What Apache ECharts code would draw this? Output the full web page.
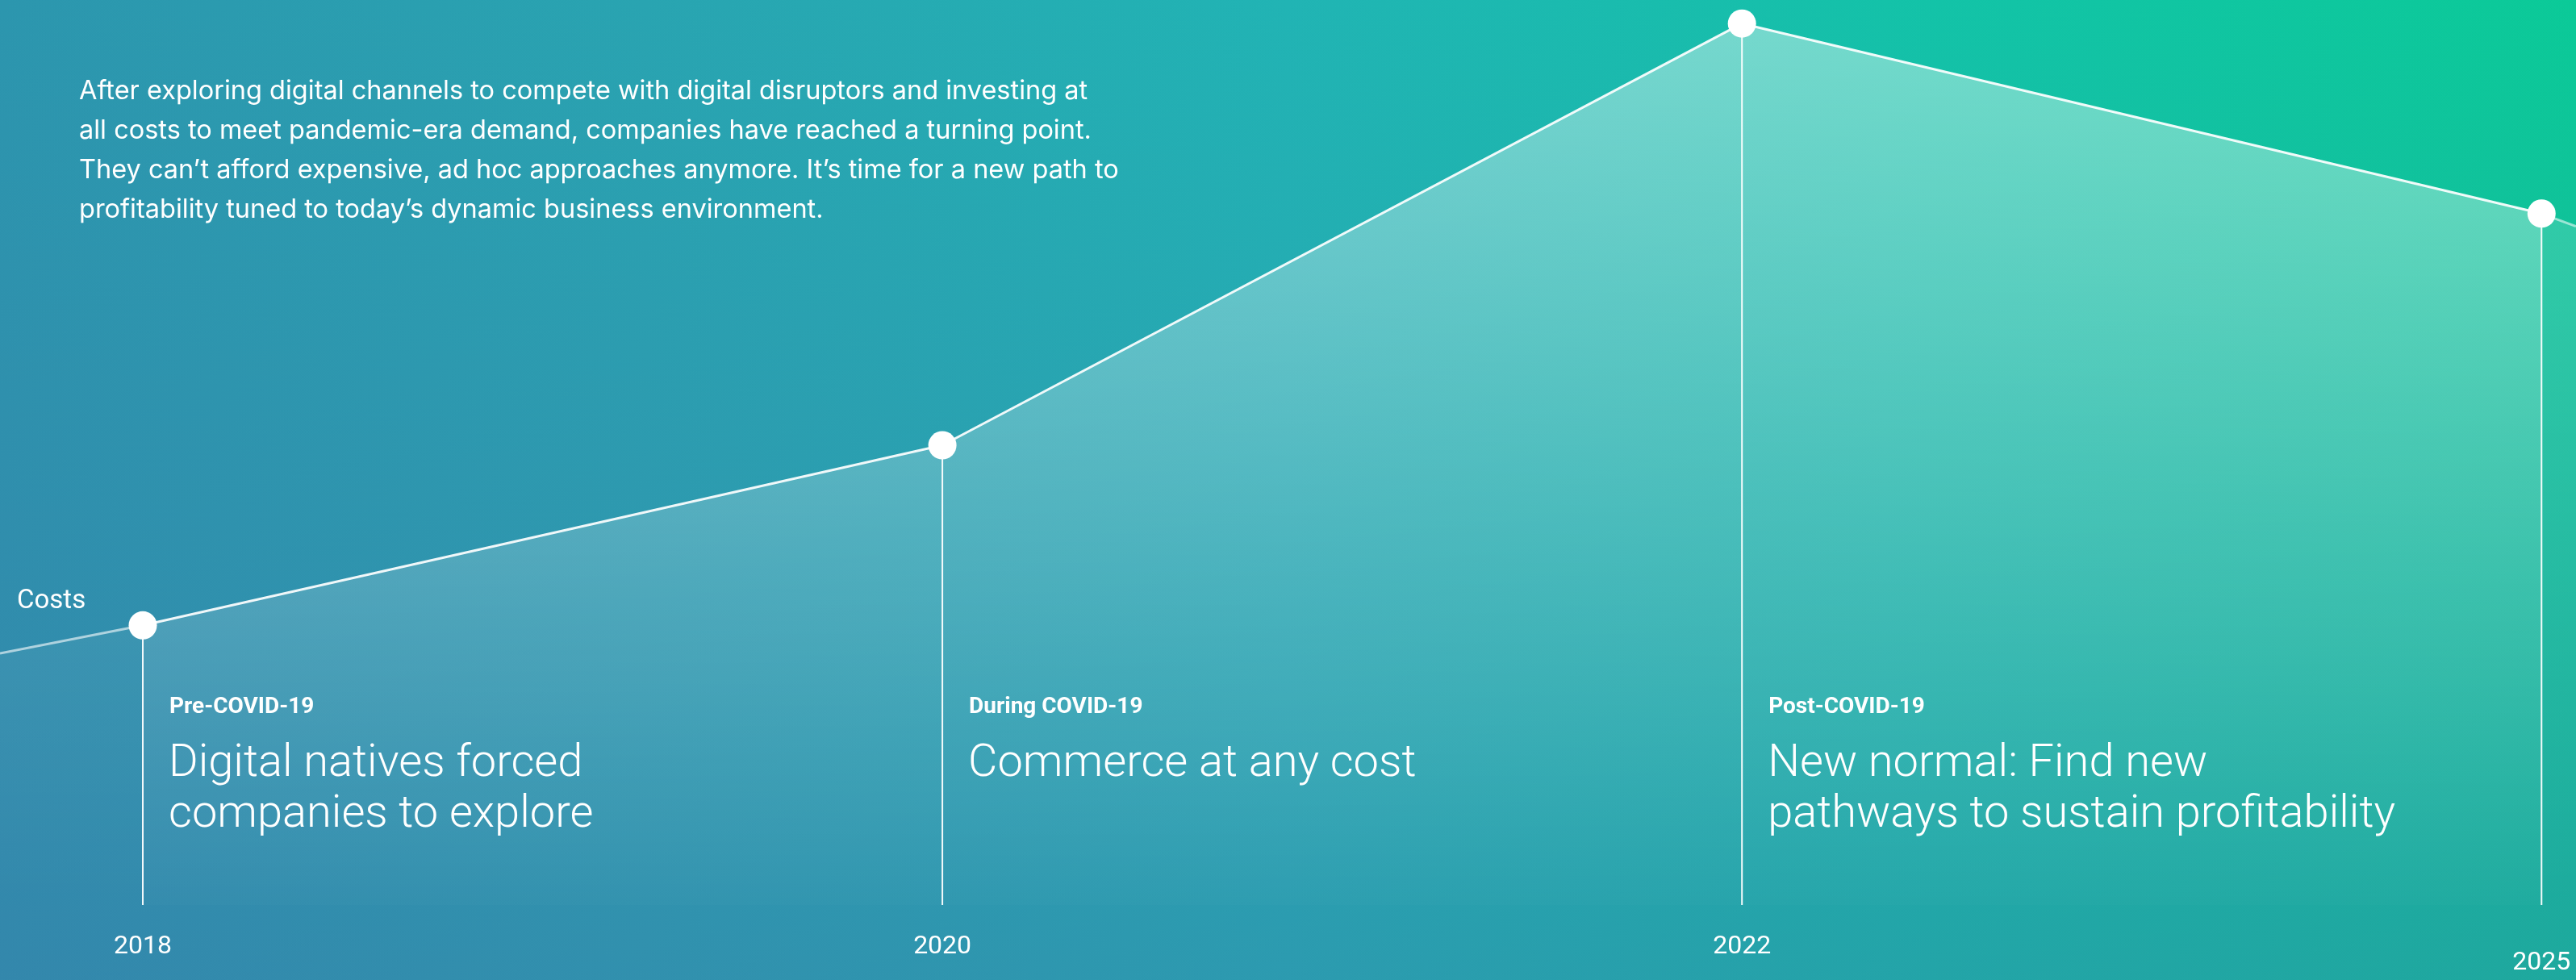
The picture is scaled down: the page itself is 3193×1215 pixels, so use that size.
<!DOCTYPE html>
<html>
<head>
<meta charset="utf-8">
<script src="https://cdn.jsdelivr.net/npm/echarts@6/dist/echarts.min.js"></script>
<style>
  html, body { margin: 0; padding: 0; width: 3193px; height: 1215px; overflow: hidden; }
  #chart { width: 3193px; height: 1215px; }
</style>
</head>
<body>
<div id="chart"></div>
<script>
// ---- data ----
const years = ['2018', '2020', '2022', '2025'];
const phases = ['Pre-COVID-19', 'During COVID-19', 'Post-COVID-19'];
const headlines = [
  'Digital natives forced\ncompanies to explore',
  'Commerce at any cost',
  'New normal: Find new\npathways to sustain profitability'
];
const costs = [30.9, 50.8, 97.4, 76.4];     // cost index at each milestone
const costBefore = 27.8;                     // line continuing before 2018
const costAfter = 75.0;                      // line continuing after 2025
const seriesName = 'Costs';
const intro = 'After exploring digital channels to compete with digital disruptors and investing at\n' +
  'all costs to meet pandemic-era demand, companies have reached a turning point.\n' +
  'They can\u2019t afford expensive, ad hoc approaches anymore. It\u2019s time for a new path to\n' +
  'profitability tuned to today\u2019s dynamic business environment.';

// ---- layout ----
const XMIN = -0.1786, XMAX = 3.0431;
const FONT = 'Roboto, "Noto Sans", sans-serif';
const FONT2 = 'Inter, Roboto, sans-serif';

const chart = echarts.init(document.getElementById('chart'), null, { renderer: 'canvas' });

const mainData = costs.map((v, i) => [i, v]);
const leftExt = [[XMIN, costBefore], [0, costs[0]]];
const rightExt = [[costs.length - 1, costs[costs.length - 1]], [XMAX, costAfter]];

const bg = new echarts.graphic.LinearGradient(0, 0, 1, 0, [
  { offset: 0, color: '#2c96ae' },
  { offset: 0.25, color: '#29a4b1' },
  { offset: 0.5, color: '#21b4b4' },
  { offset: 0.75, color: '#13c3a8' },
  { offset: 1, color: '#0bca98' }
]);

chart.setOption({
  animation: false,
  backgroundColor: bg,
  grid: { left: 0, right: 0, top: 0, bottom: 93, containLabel: false, outerBoundsMode: 'none' },
  xAxis: {
    type: 'value', min: XMIN, max: XMAX,
    axisLine: { show: false }, axisTick: { show: false }, splitLine: { show: false },
    axisLabel: {
      show: true,
      customValues: years.map((y, i) => i),
      margin: 36,
      color: '#ffffff',
      fontFamily: FONT,
      fontSize: 32,
      formatter: function (v) {
        const i = Math.round(v);
        return i === years.length - 1 ? '{low|' + years[i] + '}' : years[i];
      },
      rich: { low: { fontSize: 32, fontFamily: FONT, color: '#ffffff', padding: [20, 0, 0, 0] } }
    }
  },
  yAxis: {
    type: 'value', min: 0, max: 100,
    axisLine: { show: false }, axisTick: { show: false }, splitLine: { show: false },
    axisLabel: { show: false }
  },
  series: [
    {
      name: seriesName + ' before', type: 'line', data: leftExt, symbol: 'none', z: 2,
      lineStyle: { color: 'rgba(255,255,255,0.6)', width: 3 },
      areaStyle: { color: new echarts.graphic.LinearGradient(0, 0, 0, 1, [
        { offset: 0, color: 'rgba(255,255,255,0.08)' },
        { offset: 1, color: 'rgba(255,255,255,0.0)' }]) }
    },
    {
      name: seriesName + ' after', type: 'line', data: rightExt, symbol: 'none', z: 2,
      lineStyle: { color: 'rgba(255,255,255,0.55)', width: 3 },
      areaStyle: { color: new echarts.graphic.LinearGradient(0, 0, 0, 1, [
        { offset: 0, color: 'rgba(255,255,255,0.2)' },
        { offset: 1, color: 'rgba(255,255,255,0.0)' }]) }
    },
    {
      name: 'drop', type: 'bar', data: mainData, barWidth: 2, z: 4,
      itemStyle: { color: 'rgba(255,255,255,0.95)' }
    },
    {
      name: seriesName, type: 'line', data: mainData, z: 5,
      symbol: 'circle', symbolSize: 35,
      itemStyle: { color: '#ffffff', borderWidth: 0 },
      lineStyle: { color: 'rgba(255,255,255,0.92)', width: 3 },
      areaStyle: { color: new echarts.graphic.LinearGradient(0, 0, 0, 1, [
        { offset: 0, color: 'rgba(255,255,255,0.58)' },
        { offset: 0.75, color: 'rgba(255,255,255,0.16)' },
        { offset: 1, color: 'rgba(255,255,255,0.02)' }]) }
    }
  ]
});

// ---- background shading and text annotations ----
const graphics = [
  { type: 'rect', z: -100, silent: true, shape: { x: 0, y: 0, width: 3193, height: 1215 },
    style: { fill: new echarts.graphic.LinearGradient(0, 0, 0, 1, [
      { offset: 0, color: 'rgba(64,109,168,0)' },
      { offset: 1, color: 'rgba(64,109,168,0.36)' }]) } },
  { type: 'text', left: 98, top: 89, z: 10,
    style: { text: intro, fill: '#ffffff', font: '32.5px ' + FONT2, lineHeight: 49 } },
  { type: 'text', x: 21, y: 746, z: 10,
    style: { text: seriesName, fill: '#ffffff', font: '33px ' + FONT, verticalAlign: 'middle' } }
];
phases.forEach((p, i) => {
  const px = chart.convertToPixel({ xAxisIndex: 0 }, i);
  graphics.push({ type: 'text', x: px + 33, y: 877, z: 10,
    style: { text: p, fill: '#ffffff', font: 'bold 28px ' + FONT, verticalAlign: 'middle' } });
  graphics.push({ type: 'text', x: px + 32, y: 916, z: 10,
    style: { text: headlines[i], fill: '#ffffff', font: '300 56px ' + FONT, lineHeight: 63, verticalAlign: 'top' } });
});
chart.setOption({ graphic: graphics });
</script>
</body>
</html>
